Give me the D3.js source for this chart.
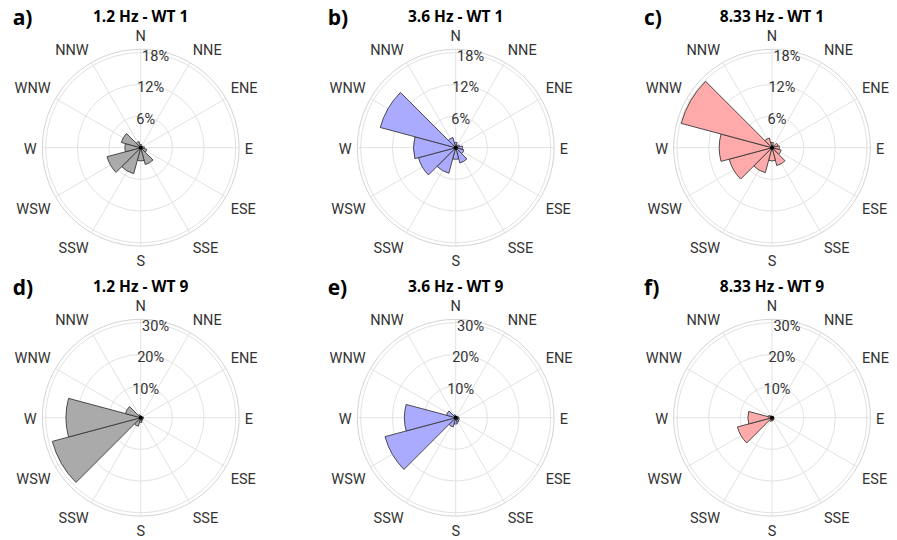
<!DOCTYPE html>
<html><head><meta charset="utf-8">
<script src="https://cdn.jsdelivr.net/npm/d3@7"></script>
<style>body{margin:0;background:#fff}</style>
</head><body>
<svg id="chart" width="897" height="540"></svg>
<script>
// ---- data ----
const directions = ["N","NNE","ENE","E","ESE","SSE","S","SSW","WSW","W","WNW","NNW"];
const panelLetters = ["a)","b)","c)","d)","e)","f)"];
const panelTitles = ["1.2 Hz - WT 1","3.6 Hz - WT 1","8.33 Hz - WT 1","1.2 Hz - WT 9","3.6 Hz - WT 9","8.33 Hz - WT 9"];
// percentage of time per direction sector (order of `directions`)
const wt1_1_2Hz  = [0.6, 0.3, 0.4, 0.7, 1.2, 3.3, 2.5, 5.1, 6.6, 3.0, 3.8, 1.2];
const wt1_3_6Hz  = [1.0, 0.5, 0.8, 1.3, 1.6, 3.0, 2.2, 5.0, 7.3, 8.0, 14.8, 2.0];
const wt1_8_33Hz = [1.0, 0.5, 1.2, 1.4, 1.8, 3.5, 2.5, 4.9, 8.4, 10.0, 17.8, 1.9];
const wt9_1_2Hz  = [0.6, 0.4, 0.5, 0.9, 0.7, 1.0, 1.5, 2.8, 28.9, 23.6, 5.0, 1.0];
const wt9_3_6Hz  = [0.6, 0.4, 0.6, 1.0, 1.2, 1.5, 2.0, 3.0, 23.1, 16.2, 3.0, 1.0];
const wt9_8_33Hz = [0.4, 0.3, 0.4, 0.6, 0.7, 0.8, 1.0, 1.2, 11.3, 7.6, 1.2, 0.6];
const seriesList = [wt1_1_2Hz, wt1_3_6Hz, wt1_8_33Hz, wt9_1_2Hz, wt9_3_6Hz, wt9_8_33Hz];
const radialTicksWT1 = [6, 12, 18];
const radialTicksWT9 = [10, 20, 30];
const tickLists = [radialTicksWT1, radialTicksWT1, radialTicksWT1, radialTicksWT9, radialTicksWT9, radialTicksWT9];

// ---- style / layout ----
const fills = ["#aaaaaa","#aaaaff","#ffaaaa","#aaaaaa","#aaaaff","#ffaaaa"];
const colCenters = [140.7, 455.7, 772];
const rowCenters = [147.7, 417.7];
const R = 95, ROUTER = 98.4, LABEL_R = 104;
const labelFont = "Roboto, 'DejaVu Sans', sans-serif";
const titleFont = "'Open Sans', 'Noto Sans', sans-serif";
const fs = 14.5, capH = fs * 0.711;

const svg = d3.select("#chart");
const toRad = d => d * Math.PI / 180;

seriesList.forEach((values, p) => {
  const cx = colCenters[p % 3], cy = rowCenters[Math.floor(p / 3)];
  const ticks = tickLists[p];
  const rMax = d3.max(ticks);
  const r = d3.scaleLinear().domain([0, rMax]).range([0, R]);
  const ang = d3.scaleLinear().domain([0, directions.length]).range([0, 360]);
  const g = svg.append("g").attr("transform", `translate(${cx},${cy})`);

  // grid circles
  g.selectAll("circle.grid").data(ticks).join("circle")
    .attr("r", d => r(d)).attr("fill", "none").attr("stroke", "#e2e2e2").attr("stroke-width", 1);
  g.append("circle").attr("r", ROUTER).attr("fill", "none").attr("stroke", "#d4d4d4").attr("stroke-width", 1);
  // spokes
  g.selectAll("line.spoke").data(directions).join("line")
    .attr("x1", 0).attr("y1", 0)
    .attr("x2", (d, i) => ROUTER * Math.sin(toRad(ang(i))))
    .attr("y2", (d, i) => -ROUTER * Math.cos(toRad(ang(i))))
    .attr("stroke", "#e2e2e2").attr("stroke-width", 1);

  // bars
  const step = 360 / directions.length;
  const arc = d3.arc().innerRadius(0);
  g.selectAll("path.bar").data(values).join("path")
    .attr("d", (v, i) => arc({outerRadius: r(v), startAngle: toRad(ang(i) - step / 2), endAngle: toRad(ang(i) + step / 2)}))
    .attr("fill", fills[p]).attr("stroke", "#3a3a3a").attr("stroke-width", 0.9).attr("stroke-linejoin", "round");
  g.append("circle").attr("r", 2).attr("fill", "#000");

  // radial tick labels
  const tilt = toRad(9);
  g.selectAll("text.rt").data(ticks).join("text")
    .attr("x", d => r(d) * Math.sin(tilt))
    .attr("y", d => -r(d) * Math.cos(tilt) + 2 + capH / 2)
    .attr("text-anchor", "middle").attr("font-family", labelFont).attr("font-size", fs)
    .attr("fill", "#333").text(d => d + "%");

  // direction labels (anchored at a point just outside the outer ring)
  g.selectAll("text.dir").data(directions).join("text")
    .attr("font-family", labelFont).attr("font-size", fs).attr("fill", "#333")
    .attr("text-anchor", (d, i) => {
      const s = Math.sin(toRad(ang(i)));
      return Math.abs(s) < 0.1 ? "middle" : (s > 0 ? "start" : "end");
    })
    .attr("x", (d, i) => LABEL_R * Math.sin(toRad(ang(i))))
    .attr("y", (d, i) => {
      const c = Math.cos(toRad(ang(i)));
      const py = -LABEL_R * c;
      if (Math.abs(c) < 0.1) return py + capH / 2 + 1;
      return c > 0 ? py - 2.7 : py + 4.5 + capH;
    })
    .text(d => d);

  // title and letter
  svg.append("text").attr("x", cx).attr("y", cy - 126)
    .attr("text-anchor", "middle").attr("font-family", titleFont).attr("font-weight", "bold")
    .attr("font-size", 15.5).attr("fill", "#000").text(panelTitles[p]);
  svg.append("text").attr("x", cx - 128).attr("y", cy - 122.7)
    .attr("font-family", titleFont).attr("font-weight", "bold")
    .attr("font-size", 21).attr("fill", "#000").text(panelLetters[p]);
});
</script>
</body></html>
